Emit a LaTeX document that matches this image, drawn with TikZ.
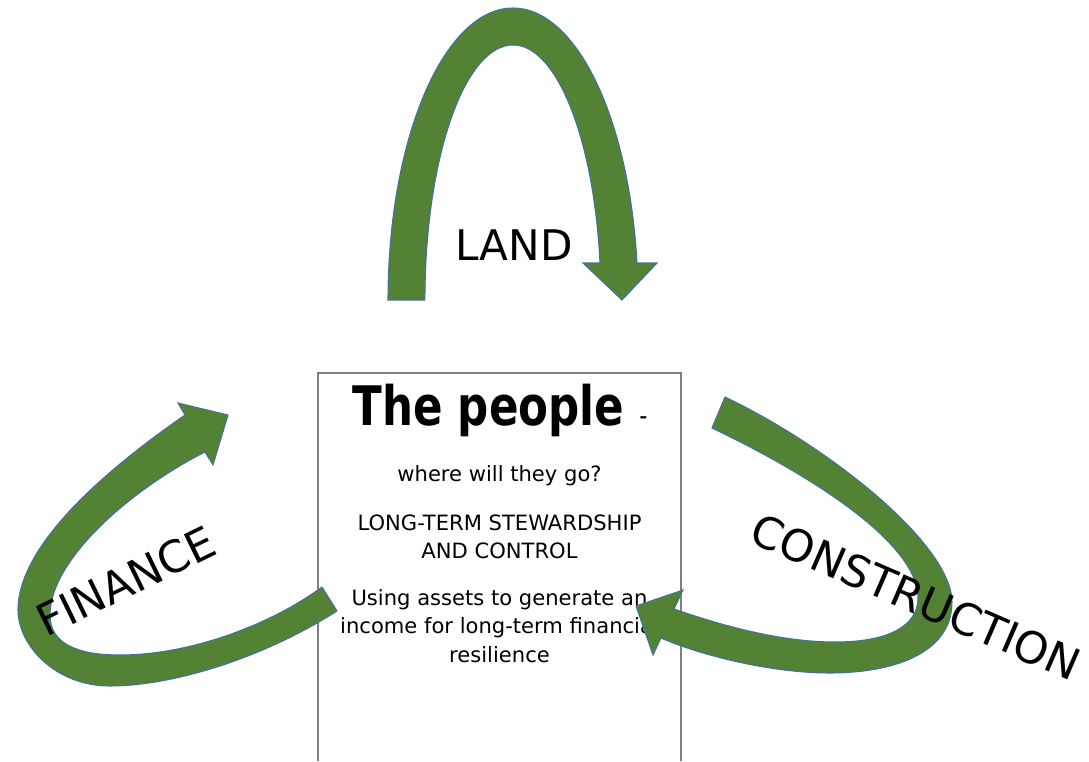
\documentclass[tikz,border=0pt]{standalone}
\usepackage{fontspec}
\setmainfont{DejaVu Sans}
\usepackage{xcolor}
\definecolor{arrowgreen}{RGB}{84,130,53}
\definecolor{arrowedge}{RGB}{65,113,156}
\definecolor{boxgray}{RGB}{128,128,128}
\tikzset{
  arrowshape/.style={fill=arrowgreen, draw=arrowedge, line width=0.6pt},
  boxtext/.style={anchor=base, inner sep=0pt, font=\fontsize{12}{14}\selectfont},
  bigword/.style={inner sep=0pt, font=\fontsize{25}{30}\selectfont}
}

\begin{document}
\begin{tikzpicture}[x=0.02cm, y=-0.02cm]
  \useasboundingbox (0,0) rectangle (1089,761);

  % The box
  \draw[boxgray, line width=0.7pt] (318,761) -- (318,373) -- (681,373) -- (681,761);

  % Box texts
  \node[anchor=base, inner sep=0pt, xscale=0.8] (title) at (500,425)
     {\fontsize{31}{36}\selectfont\bfseries The people {\fontsize{16}{18}\selectfont\mdseries -}};
  \node[boxtext] (where) at (499.5,481) {where will they go?};
  \node[boxtext] (stew1) at (499.5,530) {LONG-TERM STEWARDSHIP};
  \node[boxtext] (stew2) at (499.5,558) {AND CONTROL};
  \node[boxtext] (use1) at (499.5,605) {Using assets to generate an};
  \node[boxtext] (use2) at (499.5,633) {income for long-term financial};
  \node[boxtext] (use3) at (499.5,662) {resilience};

  % Land (top)
  \filldraw[arrowshape] (388,300)
     arc[start angle=180, end angle=352.72, x radius=125, y radius=292]
     -- (657,263) -- (622,300) -- (583,263) -- (600,263)
     arc[start angle=351.66, end angle=180, x radius=88, y radius=255]
     -- cycle;

  % Finance (left)
  \filldraw[arrowshape] (337,611)
     .. controls (260,660) and (170,686) .. (110,686)
     .. controls (55,686) and (18,645) .. (18,610)
     .. controls (18,540) and (120,460) .. (185,415)
     -- (178,403) -- (228,415) -- (213,465) -- (205,452)
     .. controls (130,490) and (50,560) .. (50,615)
     .. controls (50,645) and (80,655) .. (120,655)
     .. controls (190,655) and (270,625) .. (322,587)
     -- cycle;

  % Construction (right)
  \filldraw[arrowshape] (725,397)
     .. controls (830,447) and (952,545) .. (952,602)
     .. controls (952,655) and (890,673) .. (830,673)
     .. controls (770,673) and (700,655) .. (661,638)
     -- (653,655) -- (636,606) -- (683,590) -- (674,609)
     .. controls (720,625) and (780,642) .. (835,642)
     .. controls (890,642) and (918,625) .. (918,598)
     .. controls (918,540) and (800,470) .. (712,428)
     -- cycle;

  % Arrow labels
  \node[bigword, font=\fontsize{24}{29}\selectfont] (land) at (514,245) {LAND};
  \node[bigword, rotate=26] (finance) at (126,581) {FINANCE};
  \node[bigword, rotate=-23.4] (construction) at (916,597) {CONSTRUCTION};
\end{tikzpicture}
\end{document}
